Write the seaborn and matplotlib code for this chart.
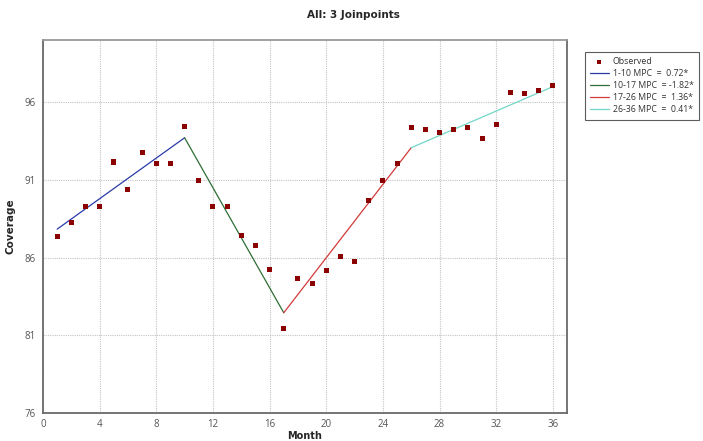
import matplotlib
matplotlib.use("Agg")
import matplotlib.pyplot as plt
import seaborn as sns
import pandas as pd

months = list(range(1, 37))
observed = [87.35, 88.25, 89.26, 89.26, 92.15, 90.4, 92.75, 92.04, 92.04, 94.44,
            90.96, 89.26, 89.26, 87.45, 86.75, 85.25, 81.44, 84.66, 84.36, 85.17,
            86.05, 85.75, 89.7, 90.96, 92.04, 94.36, 94.25, 94.06, 94.25, 94.36,
            93.65, 94.55, 96.65, 96.54, 96.76, 97.06]

joinpoint_x = [1, 10, 17, 26, 36]
joinpoint_y = [87.83, 93.71, 82.45, 93.07, 97.0]
segment_labels = ["1-10 MPC  =  0.72*", "10-17 MPC  = -1.82*",
                  "17-26 MPC  =  1.36*", "26-36 MPC  =  0.41*"]
segment_colors = ["#2a3aa8", "#2e6e34", "#d23a3a", "#72d6c6"]

x_ticks = [0, 4, 8, 12, 16, 20, 24, 28, 32, 36]
y_ticks = [76, 81, 86, 91, 96]

sns.set_style("white")
plt.rcParams['font.family'] = ['Open Sans', 'DejaVu Sans']

fig = plt.figure(figsize=(7.03, 4.41), dpi=100)
ax = fig.add_axes([43/703, 1 - 413/441, (567 - 43)/703, (413 - 40)/441])

obs_df = pd.DataFrame({"Month": months, "Coverage": observed})
sns.scatterplot(data=obs_df, x="Month", y="Coverage", ax=ax, marker="s",
                s=13, color="#8b0000", edgecolor="none", label="Observed", zorder=3)

for i in range(4):
    seg = pd.DataFrame({"Month": joinpoint_x[i:i + 2], "Coverage": joinpoint_y[i:i + 2]})
    sns.lineplot(data=seg, x="Month", y="Coverage", ax=ax, color=segment_colors[i],
                 linewidth=0.9, label=segment_labels[i], zorder=2)

ax.set_xlim(0, 37)
ax.set_ylim(76, 100)
ax.set_xticks(x_ticks)
ax.set_yticks(y_ticks)
ax.grid(True, color="#c4c4c4", linestyle=(0, (1, 1)), linewidth=0.8)
ax.set_axisbelow(True)
for side in ["left", "bottom", "right"]:
    ax.spines[side].set_color("#6a6a6a")
    ax.spines[side].set_linewidth(1.3)
ax.spines["top"].set_color("#9a9a9a")
ax.spines["top"].set_linewidth(1.3)
ax.tick_params(axis="both", labelsize=7, colors="#555555", labelcolor="#555555")
ax.tick_params(axis="x", length=0, pad=4)
ax.tick_params(axis="y", length=3, width=0.8, pad=2, color="#999999")

ax.set_xlabel("Month", fontsize=7, fontweight="bold", labelpad=1,
              family=['DejaVu Sans'])
ax.set_ylabel("Coverage", fontsize=7.5, fontweight="bold", labelpad=7,
              family=['DejaVu Sans'])
fig.suptitle("All: 3 Joinpoints", fontsize=7.5, fontweight="bold", x=0.503, y=0.978,
             family=['DejaVu Sans'])

handles, labels = ax.get_legend_handles_labels()
ax.get_legend().remove()
leg = fig.legend(handles, labels, loc="upper left", bbox_to_anchor=(585/703, 1 - 52/441),
                 fontsize=6.3, frameon=True, fancybox=False, edgecolor="#333333",
                 handlelength=2.1, handletextpad=0.45, borderpad=0.6, labelspacing=0.35,
                 markerscale=0.8, borderaxespad=0)
leg.get_frame().set_linewidth(0.8)
for t in leg.get_texts():
    t.set_color("#333333")

fig.savefig("out.png", dpi=100)
